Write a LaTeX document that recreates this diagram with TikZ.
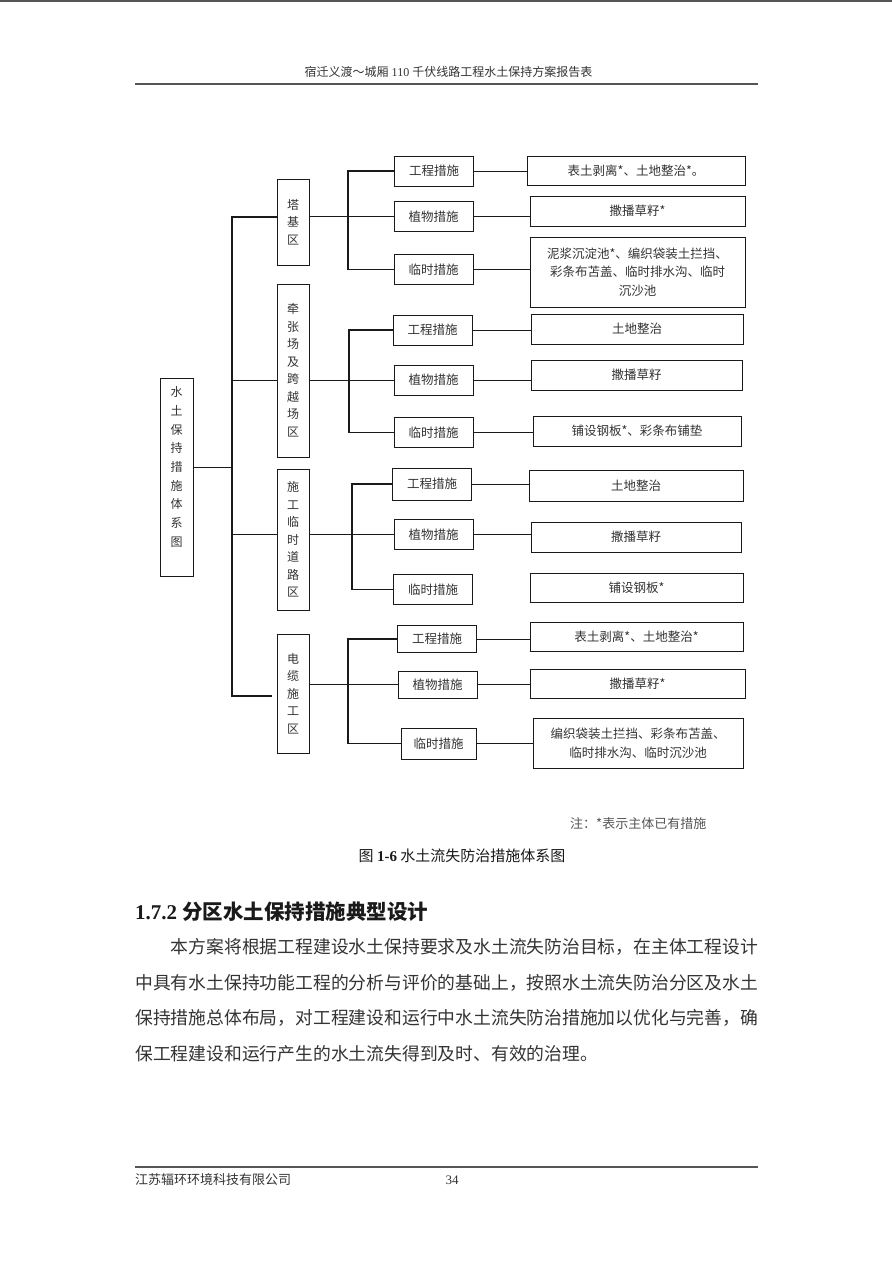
\documentclass[tikz,border=0pt]{standalone}
\usepackage{fontspec}
\setmainfont{Liberation Serif}
\newfontfamily\cjk{Noto Sans CJK SC}
\usetikzlibrary{calc}
\definecolor{PageInk}{HTML}{1A1A1A}
\definecolor{PageText}{HTML}{333333}
\definecolor{PageGray}{HTML}{555555}
\tikzset{
  every node/.style={font=\cjk, text=PageText},
  box/.style={draw=PageInk, line width=1pt, fill=white, inner sep=0pt},
  rootbox/.style={box, minimum width=33pt, minimum height=198pt},
  zonebox/.style={box, minimum width=32pt, align=center, font=\cjk\fontsize{12}{17.5}\selectfont},
  vtext/.style={align=center, font=\cjk\fontsize{12}{18.7}\selectfont},
  measure/.style={box, minimum width=79pt, minimum height=30pt, font=\cjk\fontsize{12.5}{15}\selectfont},
  leaf/.style={box, minimum height=30pt, align=center, font=\cjk\fontsize{12.5}{18.5}\selectfont},
  link/.style={draw=PageInk, line width=1pt},
  bus/.style={draw=PageInk, line width=1.3pt},
  rulebar/.style={draw=PageGray, line width=1.6pt},
  bodyline/.style={anchor=west, inner sep=0pt, text=PageText, font=\cjk\fontsize{17.8}{20}\selectfont},
}

\begin{document}
\begin{tikzpicture}[x=1pt,y=-1pt]
  \fill[white] (0,0) rectangle (892,1262);
  \useasboundingbox (0,0) rectangle (892,1262);
  % page head and foot
  \draw[rulebar] (0,1) -- (892,1);
  \node[font=\fontsize{12}{14}\selectfont] (head) at (448.5,72) {{\cjk 宿迁义渡～城厢} 110 {\cjk 千伏线路工程水土保持方案报告表}};
  \draw[rulebar] (135,84) -- (758,84);
  \draw[rulebar, line width=1.2pt] (135,1167) -- (758,1167);
  \node[anchor=west, inner sep=0pt, font=\cjk\fontsize{13}{15}\selectfont] (firm) at (135,1180) {江苏辐环环境科技有限公司};
  \node[font=\fontsize{13}{15}\selectfont] (page) at (452,1180) {34};

  % root and main bus
  \node[rootbox] (root) at (176.5,477) {};
  \node[vtext, yshift=10pt] (roottext) at (root) {水\\土\\保\\持\\措\\施\\体\\系\\图};
  \coordinate (mtop) at (232,217);
  \coordinate (mbot) at (232,696);
  \coordinate (rj) at (232,467);

  % zone A: tower base
  \node[zonebox, minimum height=86pt] (za) at (293,222) {塔\\基\\区};
  \node[measure] (za1) at (434,171) {工程措施};
  \node[measure] (za2) at (433.5,216.5) {植物措施};
  \node[measure] (za3) at (433.5,269.5) {临时措施};
  \node[leaf, minimum width=218pt, minimum height=29pt] (la1) at (636,170.5) {表土剥离*、土地整治*。};
  \node[leaf, minimum width=215pt] (la2) at (637.5,211) {撒播草籽*};
  \node[leaf, minimum width=215pt, minimum height=70pt] (la3) at (637.5,272) {泥浆沉淀池*、编织袋装土拦挡、\\彩条布苫盖、临时排水沟、临时\\沉沙池};
  \coordinate (ba) at (348,0);
  \draw[bus] (za1.west) -| (ba |- za3.west) -- (za3.west);
  \draw[link] (za.east |- za2.west) -- (za2.west);
  \foreach \i in {1,2,3} \draw[link] (za\i.east) -- (za\i.east -| la\i.west);

  % zone B: tension yard and crossing yard
  \node[zonebox, minimum height=173pt] (zb) at (293,370.5) {牵\\张\\场\\及\\跨\\越\\场\\区};
  \node[measure] (zb1) at (432.5,330) {工程措施};
  \node[measure] (zb2) at (433.5,380) {植物措施};
  \node[measure] (zb3) at (433.5,432.5) {临时措施};
  \node[leaf, minimum width=212pt] (lb1) at (637,329) {土地整治};
  \node[leaf, minimum width=211pt] (lb2) at (636.5,375) {撒播草籽};
  \node[leaf, minimum width=208pt] (lb3) at (637,431) {铺设钢板*、彩条布铺垫};
  \coordinate (bb) at (349,0);
  \draw[bus] (zb1.west) -| (bb |- zb3.west) -- (zb3.west);
  \draw[link] (zb.east |- zb2.west) -- (zb2.west);
  \foreach \i in {1,2,3} \draw[link] (zb\i.east) -- (zb\i.east -| lb\i.west);

  % zone C: temporary construction road
  \node[zonebox, minimum height=141pt] (zc) at (293,539.5) {施\\工\\临\\时\\道\\路\\区};
  \node[measure, minimum height=32pt] (zc1) at (432,484) {工程措施};
  \node[measure] (zc2) at (433.5,534.5) {植物措施};
  \node[measure] (zc3) at (433,589.5) {临时措施};
  \node[leaf, minimum width=214pt, minimum height=31pt] (lc1) at (636,485.5) {土地整治};
  \node[leaf, minimum width=210pt] (lc2) at (636,537) {撒播草籽};
  \node[leaf, minimum width=213pt, minimum height=29pt] (lc3) at (636.5,587.5) {铺设钢板*};
  \coordinate (bc) at (352,0);
  \draw[bus] (zc1.west) -| (bc |- zc3.west) -- (zc3.west);
  \draw[link] (zc.east |- zc2.west) -- (zc2.west);
  \foreach \i in {1,2} \draw[link] (zc\i.east) -- (zc\i.east -| lc\i.west);

  % zone D: cable construction
  \node[zonebox, minimum height=119pt] (zd) at (293,693.5) {电\\缆\\施\\工\\区};
  \node[measure, minimum height=27pt] (zd1) at (437,639) {工程措施};
  \node[measure, minimum height=27pt] (zd2) at (437.5,684.5) {植物措施};
  \node[measure, minimum width=75pt, minimum height=31pt] (zd3) at (438.5,743.5) {临时措施};
  \node[leaf, minimum width=213pt, minimum height=29pt] (ld1) at (636.5,636.5) {表土剥离*、土地整治*};
  \node[leaf, minimum width=215pt, minimum height=29pt] (ld2) at (637.5,683.5) {撒播草籽*};
  \node[leaf, minimum width=210pt, minimum height=50pt] (ld3) at (638,743) {编织袋装土拦挡、彩条布苫盖、\\临时排水沟、临时沉沙池};
  \coordinate (bd) at (348,0);
  \draw[bus] (zd1.west) -| (bd |- zd3.west) -- (zd3.west);
  \draw[link] (zd.east |- zd2.west) -- (zd2.west);
  \foreach \i in {1,2,3} \draw[link] (zd\i.east) -- (zd\i.east -| ld\i.west);

  % main bus to the four zones
  \draw[bus] (za.west |- mtop) -- (mtop) -- (mbot) -- ([xshift=-5pt]zd.west |- mbot);
  \draw[link] (mtop |- zb2.west) -- (zb.west |- zb2.west);
  \draw[link] (mtop |- zc2.west) -- (zc.west |- zc2.west);
  \draw[link] (root.east |- rj) -- (rj);

  % note and caption
  \node[anchor=west, inner sep=0pt, text=PageGray, font=\cjk\fontsize{13}{15}\selectfont] (note) at (570,824) {注：*表示主体已有措施};
  \node[text=PageInk, font=\cjk\fontsize{15}{17}\selectfont] (caption) at (462,856) {图 {\rmfamily\bfseries 1-6} 水土流失防治措施体系图};

  % section text
  \node[anchor=west, inner sep=0pt, text=PageInk, font=\fontsize{21}{23}\selectfont\bfseries] (sect) at (135,912) {1.7.2 {\cjk\fontsize{20.5}{23}\selectfont 分区水土保持措施典型设计}};
  \node[bodyline] (l1) at (170.6,947) {本方案将根据工程建设水土保持要求及水土流失防治目标，在主体工程设计};
  \node[bodyline] (l2) at (135,983) {中具有水土保持功能工程的分析与评价的基础上，按照水土流失防治分区及水土};
  \node[bodyline] (l3) at (135,1018) {保持措施总体布局，对工程建设和运行中水土流失防治措施加以优化与完善，确};
  \node[bodyline] (l4) at (135,1054) {保工程建设和运行产生的水土流失得到及时、有效的治理。};
\end{tikzpicture}
\end{document}
